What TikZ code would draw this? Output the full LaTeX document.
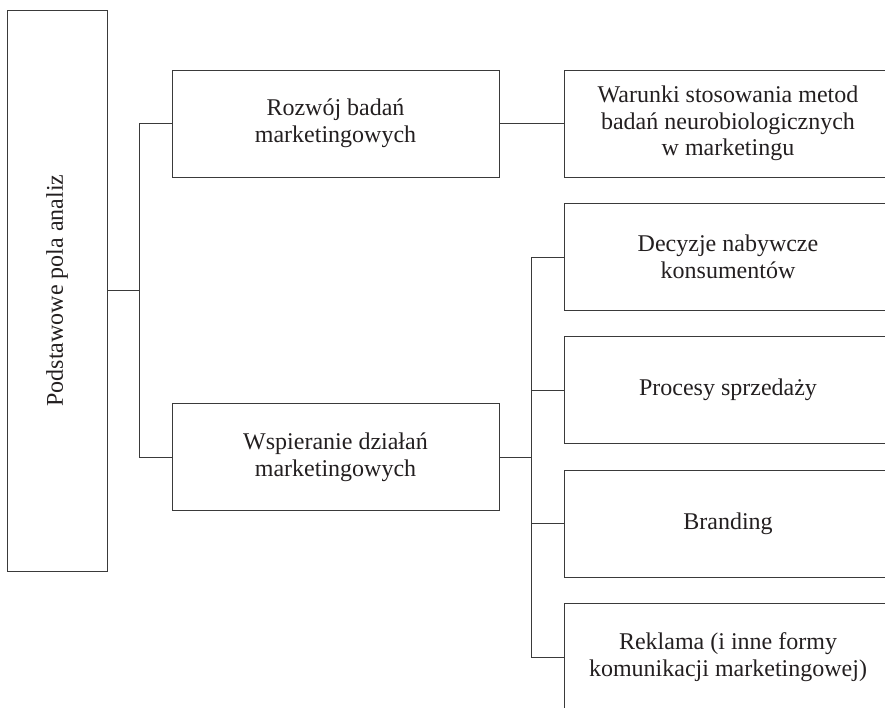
\documentclass[tikz,border=0pt]{standalone}
\usepackage{fontspec}
\setmainfont{Liberation Serif}
\definecolor{lc}{HTML}{3A3A3A}
\definecolor{tc}{HTML}{231F20}
\begin{document}
\begin{tikzpicture}[x=1pt,y=-1pt,
  box/.style={draw=lc, line width=1pt, align=center, inner sep=0pt, text=tc,
    font=\fontsize{24}{26.7}\selectfont, minimum width=327pt, minimum height=107pt},
  conn/.style={draw=lc, line width=1pt}]
\useasboundingbox (0,0) rectangle (885,707);
\clip (0,0) rectangle (885,707);
\node[box, rotate=90, minimum width=561pt, minimum height=100pt] (root) at (57,290.5) {Podstawowe pola analiz};
\node[box] (roz) at (335.5,123.5) {Rozwój badań\\marketingowych};
\node[box] (wsp) at (335.5,457) {Wspieranie działań\\marketingowych};
\node[box, minimum width=328pt] (war) at (728,123.5) {Warunki stosowania metod\\badań neurobiologicznych\\w marketingu};
\node[box, minimum width=328pt] (dec) at (728,257) {Decyzje nabywcze\\konsumentów};
\node[box, minimum width=328pt] (pro) at (728,390) {Procesy sprzedaży};
\node[box, minimum width=328pt] (bra) at (728,523.5) {Branding};
\node[box, minimum width=328pt] (rek) at (728,657) {Reklama (i inne formy\\komunikacji marketingowej)};
\coordinate (j1) at (139,290.5);
\coordinate (j2) at (531.5,457);
\draw[conn] (root.south) -- (j1);
\draw[conn] (roz.west) -- (roz.west -| j1) -- (wsp.west -| j1) -- (wsp.west);
\draw[conn] (roz.east) -- (war.west);
\draw[conn] (wsp.east) -- (j2);
\draw[conn] (dec.west) -- (dec.west -| j2) -- (rek.west -| j2) -- (rek.west);
\draw[conn] (pro.west) -- (pro.west -| j2);
\draw[conn] (bra.west) -- (bra.west -| j2);
\end{tikzpicture}
\end{document}
